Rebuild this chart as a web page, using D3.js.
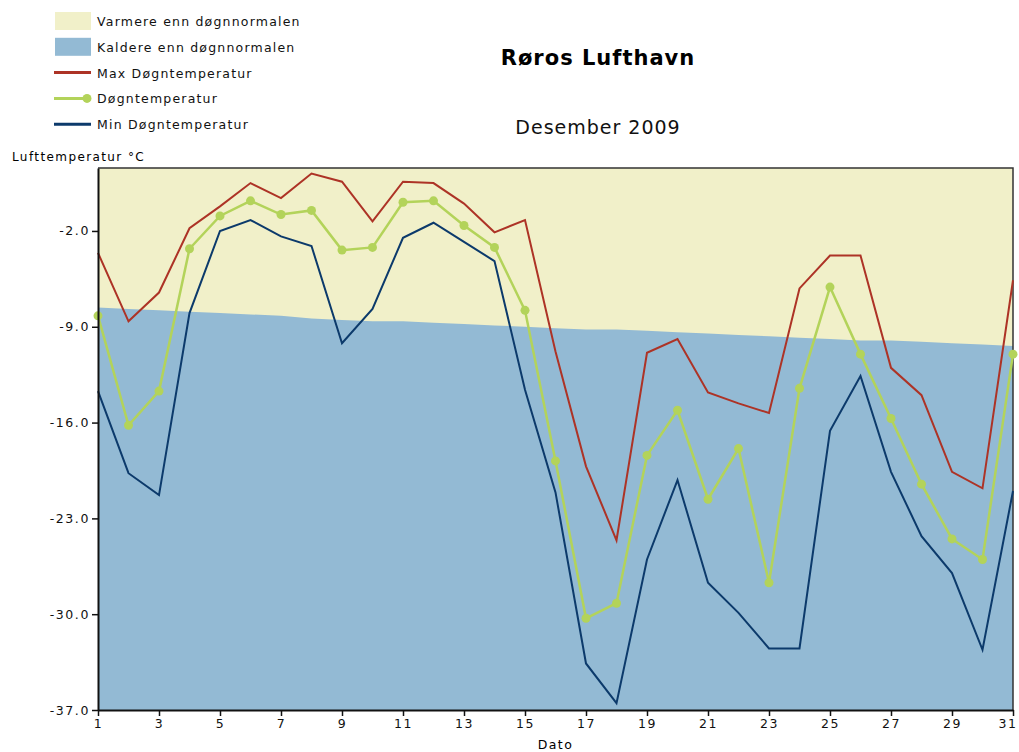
<!DOCTYPE html>
<html lang="no">
  <head>
    <meta charset="UTF-8" />
    <title>Røros Lufthavn</title>
    <script src="https://d3js.org/d3.v7.min.js"></script>
    <style>
      body { margin: 0; background: #fff; }
      text { font-family: 'DejaVu Sans', Verdana, sans-serif; }
    </style>
  </head>
  <body>
    <div id="chart"></div>
    <script>
      // values (°C), days 1..31
      const days = d3.range(1, 32)
      const maxTemp = [-3.6, -8.6, -6.5, -1.8, -0.2, 1.5, 0.4, 2.2, 1.6, -1.3,
        1.6, 1.5, 0.0, -2.1, -1.2, -10.8, -19.2, -24.6, -10.9, -9.9,
        -13.8, -14.6, -15.3, -6.2, -3.8, -3.8, -12.0, -14.0, -19.6, -20.8, -5.6]
      const meanTemp = [-8.2, -16.2, -13.7, -3.3, -0.9, 0.2, -0.8, -0.5, -3.4, -3.2,
        0.1, 0.2, -1.6, -3.2, -7.8, -18.8, -30.3, -29.2, -18.4, -15.1,
        -21.6, -17.9, -27.7, -13.5, -6.1, -11.0, -15.7, -20.5, -24.5, -26.0, -11.0]
      const minTemp = [-13.7, -19.7, -21.3, -8.0, -2.0, -1.2, -2.4, -3.1, -10.2, -7.7,
        -2.5, -1.4, -2.8, -4.2, -13.6, -21.1, -33.6, -36.5, -26.0, -20.2,
        -27.7, -29.9, -32.5, -32.5, -16.6, -12.6, -19.6, -24.3, -27.0, -32.6, -21.0]
      const normalTemp = [-7.6, -7.7, -7.8, -7.9, -8.0, -8.1, -8.2, -8.4, -8.5, -8.6,
        -8.6, -8.7, -8.8, -8.9, -9.0, -9.1, -9.2, -9.2, -9.3, -9.4,
        -9.5, -9.6, -9.7, -9.8, -9.9, -10.0, -10.0, -10.1, -10.2, -10.3, -10.4]
      const yTicks = [-37, -30, -23, -16, -9, -2]
      const xTicks = d3.range(1, 32, 2)
      const legendItems = [
        { label: 'Varmere enn døgnnormalen', kind: 'rect', color: '#f1f0c9' },
        { label: 'Kaldere enn  døgnnormalen', kind: 'rect', color: '#93bad4' },
        { label: 'Max Døgntemperatur', kind: 'line', color: '#ad3326' },
        { label: 'Døgntemperatur', kind: 'dot', color: '#b3d35a' },
        { label: 'Min Døgntemperatur', kind: 'line', color: '#0c3a6b' }
      ]

      const W = 1019, H = 752
      const margin = { top: 168, right: 6, bottom: 42, left: 98 }

      const svg = d3.select('#chart').append('svg')
        .attr('width', W).attr('height', H)

      const x = d3.scaleLinear().domain([1, 31]).range([margin.left, W - margin.right])
      const y = d3.scaleLinear().domain([-37, 2.6]).range([H - margin.bottom, margin.top])

      // background: warmer than normal (everything above the normal line)
      svg.append('rect')
        .attr('x', x(1)).attr('y', y(2.6))
        .attr('width', x(31) - x(1)).attr('height', y(-37) - y(2.6))
        .attr('fill', '#f1f0c9')

      // colder than normal: area from the normal down to the bottom
      const coldArea = d3.area()
        .x((d, i) => x(days[i]))
        .y0(y(-37))
        .y1(d => y(d))
      svg.append('path')
        .datum(normalTemp)
        .attr('fill', '#93bad4')
        .attr('d', coldArea)

      // frame top/right
      svg.append('path')
        .attr('d', `M${x(1)},${y(2.6)}H${x(31)}V${y(-37)}`)
        .attr('fill', 'none').attr('stroke', '#333').attr('stroke-width', 1.5)

      const line = d3.line().x((d, i) => x(days[i])).y(d => y(d))

      svg.append('path').datum(maxTemp)
        .attr('fill', 'none').attr('stroke', '#ad3326').attr('stroke-width', 2)
        .attr('d', line)
      svg.append('path').datum(minTemp)
        .attr('fill', 'none').attr('stroke', '#0c3a6b').attr('stroke-width', 2)
        .attr('d', line)
      svg.append('path').datum(meanTemp)
        .attr('fill', 'none').attr('stroke', '#b3d35a').attr('stroke-width', 2.5)
        .attr('d', line)
      svg.selectAll('.dot').data(meanTemp).join('circle')
        .attr('class', 'dot')
        .attr('cx', (d, i) => x(days[i]))
        .attr('cy', d => y(d))
        .attr('r', 4.5)
        .attr('fill', '#b3d35a')

      // axes (plain hyphen for negatives, like the original)
      const fmt = d => d3.format('.1f')(d).replace('−', '-')
      const yAxis = svg.append('g')
        .attr('transform', `translate(${x(1)},0)`)
        .call(d3.axisLeft(y).tickValues(yTicks).tickFormat(fmt).tickSize(6).tickSizeOuter(0))
      const xAxis = svg.append('g')
        .attr('transform', `translate(0,${y(-37)})`)
        .call(d3.axisBottom(x).tickValues(xTicks).tickFormat(d3.format('d')).tickSize(6).tickSizeOuter(0))
      ;[yAxis, xAxis].forEach(a => {
        a.select('.domain').attr('stroke', '#111').attr('stroke-width', 2)
        a.selectAll('.tick line').attr('stroke', '#111').attr('stroke-width', 1.5)
        a.selectAll('.tick text')
          .attr('fill', '#111')
          .style('font-size', '12.5px')
          .style('letter-spacing', '1.6px')
          .style('font-family', "'DejaVu Sans', sans-serif")
      })
      yAxis.selectAll('.tick text').attr('x', -8)
      xAxis.selectAll('.tick text').attr('y', 9)
      xAxis.selectAll('.tick').filter(d => d === 31).select('text')
        .attr('text-anchor', 'end').attr('dx', '4px')

      // titles
      svg.append('text')
        .attr('x', 598).attr('y', 65)
        .attr('text-anchor', 'middle')
        .style('font-size', '21px').style('font-weight', 'bold')
        .style('letter-spacing', '1px')
        .text('Røros Lufthavn')
      svg.append('text')
        .attr('x', 598).attr('y', 134)
        .attr('text-anchor', 'middle')
        .style('font-size', '19px')
        .style('letter-spacing', '1px')
        .attr('fill', '#111')
        .text('Desember 2009')
      svg.append('text')
        .attr('x', 12).attr('y', 161)
        .style('font-size', '12px').style('letter-spacing', '1.4px')
        .text('Lufttemperatur °C')
      svg.append('text')
        .attr('x', (x(1) + x(31)) / 2).attr('y', 749)
        .attr('text-anchor', 'middle')
        .style('font-size', '12.5px').style('letter-spacing', '1.4px')
        .text('Dato')

      // legend
      const leg = svg.append('g')
      legendItems.forEach((it, i) => {
        const cy = 21 + i * 25.8
        const g = leg.append('g')
        if (it.kind === 'rect') {
          g.append('rect').attr('x', 55).attr('y', cy - 9)
            .attr('width', 36).attr('height', 18).attr('fill', it.color)
        } else {
          g.append('line').attr('x1', 54).attr('x2', 91)
            .attr('y1', cy).attr('y2', cy)
            .attr('stroke', it.color).attr('stroke-width', 3)
          if (it.kind === 'dot') {
            g.append('circle').attr('cx', 87).attr('cy', cy).attr('r', 4.5).attr('fill', it.color)
          }
        }
        g.append('text').attr('x', 97).attr('y', cy + 5)
          .style('font-size', '12.5px').style('letter-spacing', '1.2px')
          .attr('fill', '#111')
          .text(it.label)
      })
    </script>
  </body>
</html>
